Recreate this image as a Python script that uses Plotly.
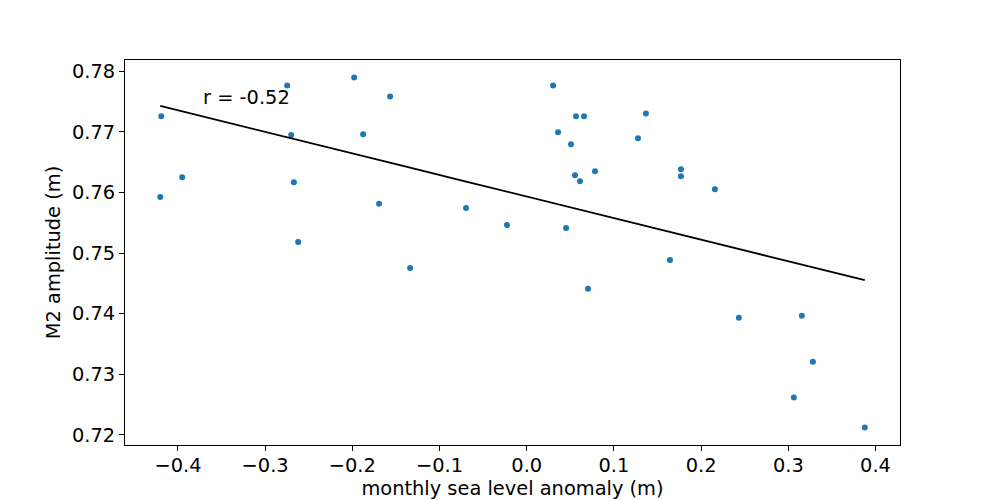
import numpy as np
import plotly.graph_objects as go

sea_level_anomaly = [
    -0.4191, -0.4203, -0.3951, -0.2747, -0.2701, -0.2670, -0.2621, -0.1979,
    -0.1876, -0.1567, -0.1693, -0.0696, -0.0226, -0.1337, 0.0302, 0.0565,
    0.0657, 0.0359, 0.0508, 0.1367, 0.1276, 0.0554, 0.0611, 0.0783,
    0.1769, 0.1769, 0.2158, 0.0451, 0.0703, 0.1643, 0.2433, 0.3155,
    0.3282, 0.3064, 0.3877,
]
m2_amplitude = [
    0.77255, 0.75923, 0.76252, 0.77765, 0.76947, 0.76169, 0.75183, 0.77896,
    0.76959, 0.77584, 0.75812, 0.75742, 0.75462, 0.74755, 0.77765, 0.77255,
    0.77255, 0.76992, 0.76794, 0.77304, 0.76893, 0.76285, 0.76186, 0.76350,
    0.76383, 0.76268, 0.76054, 0.75413, 0.74410, 0.74886, 0.73933, 0.73965,
    0.73209, 0.72617, 0.72123,
]
x_ticks = [-0.4, -0.3, -0.2, -0.1, 0.0, 0.1, 0.2, 0.3, 0.4]
x_tick_labels = ["−0.4", "−0.3", "−0.2", "−0.1", "0.0", "0.1", "0.2", "0.3", "0.4"]
y_ticks = [0.72, 0.73, 0.74, 0.75, 0.76, 0.77, 0.78]
y_tick_labels = ["0.72", "0.73", "0.74", "0.75", "0.76", "0.77", "0.78"]
r_label = "r = -0.52"

x = np.array(sea_level_anomaly)
y = np.array(m2_amplitude)
slope, intercept = np.polyfit(x, y, 1)
fit_y = slope * x + intercept

font = "DejaVu Sans, sans-serif"
fsize = 19.4
fig = go.Figure()
fig.add_trace(go.Scatter(
    x=x, y=y, mode="markers",
    marker=dict(color="#1f77b4", size=6, line=dict(width=0)),
    showlegend=False,
))
order = np.argsort(x)
fig.add_trace(go.Scatter(
    x=x[order], y=fit_y[order], mode="lines",
    line=dict(color="black", width=1.8),
    showlegend=False,
))
fig.add_annotation(
    x=-0.374, y=0.7757, xref="x", yref="y", text=r_label,
    showarrow=False, xanchor="left", yanchor="middle",
    font=dict(family=font, size=fsize, color="black"),
)

xmin, xmax = x.min(), x.max()
ymin, ymax = y.min(), y.max()
xpad = 0.05 * (xmax - xmin)
ypad = 0.05 * (ymax - ymin)

axis_common = dict(
    showgrid=False, zeroline=False, showline=True, mirror=True,
    linecolor="black", linewidth=1.1, ticks="outside", ticklen=5,
    tickwidth=1.1, tickcolor="black", automargin=False,
    tickfont=dict(family=font, size=fsize, color="black"),
)
fig.update_xaxes(
    range=[xmin - xpad, xmax + xpad], tickvals=x_ticks, ticktext=x_tick_labels,
    ticklabelstandoff=-2,
    title=dict(text="monthly sea level anomaly (m)", standoff=5,
               font=dict(family=font, size=fsize, color="black")),
    **axis_common,
)
fig.update_yaxes(
    range=[ymin - ypad, ymax + ypad], tickvals=y_ticks, ticktext=y_tick_labels,
    title=dict(text="M2 amplitude (m)", standoff=6,
               font=dict(family=font, size=fsize, color="black")),
    **axis_common,
)
# page body has an 8px default margin; size and margins compensate for it
fig.update_layout(
    width=992, height=492,
    margin=dict(l=117, r=100, t=52, b=55),
    plot_bgcolor="white", paper_bgcolor="white",
)
fig.write_html("out.html")
